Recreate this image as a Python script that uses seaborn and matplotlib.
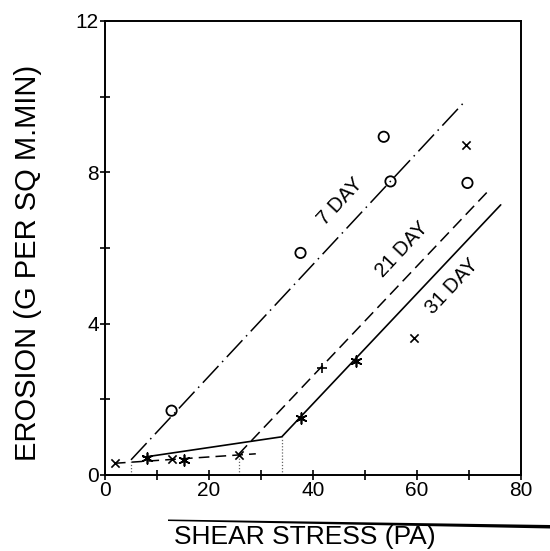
import numpy as np
import pandas as pd
import matplotlib
matplotlib.use("Agg")
import matplotlib.pyplot as plt
from matplotlib.patches import Polygon
import seaborn as sns

# ---- data ----
x_7day = [12.8, 37.6, 53.6, 54.9, 69.7]
y_7day = [1.70, 5.87, 8.94, 7.76, 7.72]

x_21day = [1.9, 12.8, 25.7, 59.4, 69.5]
y_21day = [0.31, 0.41, 0.53, 3.62, 8.73]
x_21plus = [41.8]
y_21plus = [2.82]

x_31day = [8.0, 15.1, 37.7, 48.2]
y_31day = [0.44, 0.40, 1.50, 3.02]

fit7_x = [5.0, 68.9]
fit7_y = [0.40, 9.83]
fit21_low_x = [1.9, 29.0]
fit21_low_y = [0.31, 0.56]
fit21_x = [25.7, 74.2]
fit21_y = [0.55, 7.58]
fit31_x = [7.4, 34.0, 76.1]
fit31_y = [0.47, 1.01, 7.14]

drop_x = [5.0, 25.7, 34.0]
drop_top = [0.40, 0.55, 1.01]

labels = ["7 DAY", "21 DAY", "31 DAY"]
label_x = [45.3, 57.2, 66.8]
label_y = [7.23, 5.95, 4.98]

x_ticks = [0, 20, 40, 60, 80]
y_ticks = [0, 4, 8, 12]

sns.set_theme(style="white")
plt.rcParams['font.family'] = ['Liberation Sans', 'DejaVu Sans']
plt.rcParams['text.color'] = 'black'

fig = plt.figure(figsize=(5.5, 5.51), dpi=100)
ax = fig.add_axes([105/550, 1-475/551, (521-105)/550, (475-21)/551])

# fitted lines
sns.lineplot(x=fit7_x, y=fit7_y, ax=ax, color='black', lw=1.1, sort=False,
             estimator=None, linestyle=(0, (15, 3.5, 1, 3.5)))
sns.lineplot(x=fit21_low_x, y=fit21_low_y, ax=ax, color='black', lw=1.1, sort=False,
             estimator=None, linestyle=(0, (7, 4)))
sns.lineplot(x=fit21_x, y=fit21_y, ax=ax, color='black', lw=1.1, sort=False,
             estimator=None, linestyle=(0, (8, 4)))
sns.lineplot(x=fit31_x, y=fit31_y, ax=ax, color='black', lw=1.2, sort=False,
             estimator=None, linestyle='-')

for xv, yt in zip(drop_x, drop_top):
    ax.plot([xv, xv], [0, yt], color='0.4', lw=0.9, linestyle=(0, (1, 1.5)))

# points
sns.scatterplot(x=x_7day, y=y_7day, ax=ax, marker='o', s=55, facecolor='none',
                edgecolor='black', linewidth=1.3, zorder=5)
sns.scatterplot(x=x_21day, y=y_21day, ax=ax, marker='x', s=35, color='black',
                linewidth=1.2, zorder=5)
sns.scatterplot(x=x_21plus, y=y_21plus, ax=ax, marker='+', s=60, color='black',
                linewidth=1.2, zorder=5)
sns.scatterplot(x=x_31day, y=y_31day, ax=ax, marker=(6, 2, 0), s=60, color='black',
                linewidth=1.2, zorder=5)

for t, lx, ly in zip(labels, label_x, label_y):
    ax.text(lx, ly, t, rotation=47, ha='center', va='center', fontsize=14.5,
            rotation_mode='anchor', color='black',
            bbox=dict(facecolor='white', edgecolor='none', pad=0.5))

ax.set_xlim(0, 80)
ax.set_ylim(0, 12)
ax.set_xticks(x_ticks)
ax.set_yticks(y_ticks)
ax.set_xticks(np.arange(0, 81, 10), minor=True)
ax.set_yticks(np.arange(0, 13, 2), minor=True)
ax.tick_params(which='both', direction='inout', length=7, width=1.2, color='black',
               labelsize=15, bottom=True, left=True, pad=1, labelcolor='black')
ax.tick_params(which='minor', length=7)
for s in ax.spines.values():
    s.set_color('black')
    s.set_linewidth(1.4)

fig.text(28/550, 1-263/551, "EROSION (G PER SQ M.MIN)", rotation=90,
         ha='center', va='center', fontsize=21, color='black')
fig.text(305/550, 1-537/551, "SHEAR STRESS (PA)", ha='center', va='center',
         fontsize=19, color='black')

# decorative tapered rule above the x title (as in the scan)
poly = Polygon([(168/550, 1-519.5/551), (550/550, 1-525/551),
                (550/550, 1-528.5/551), (168/550, 1-521/551)],
               closed=True, facecolor='black', edgecolor='none',
               transform=fig.transFigure)
fig.add_artist(poly)

fig.savefig("out.png", dpi=100)
